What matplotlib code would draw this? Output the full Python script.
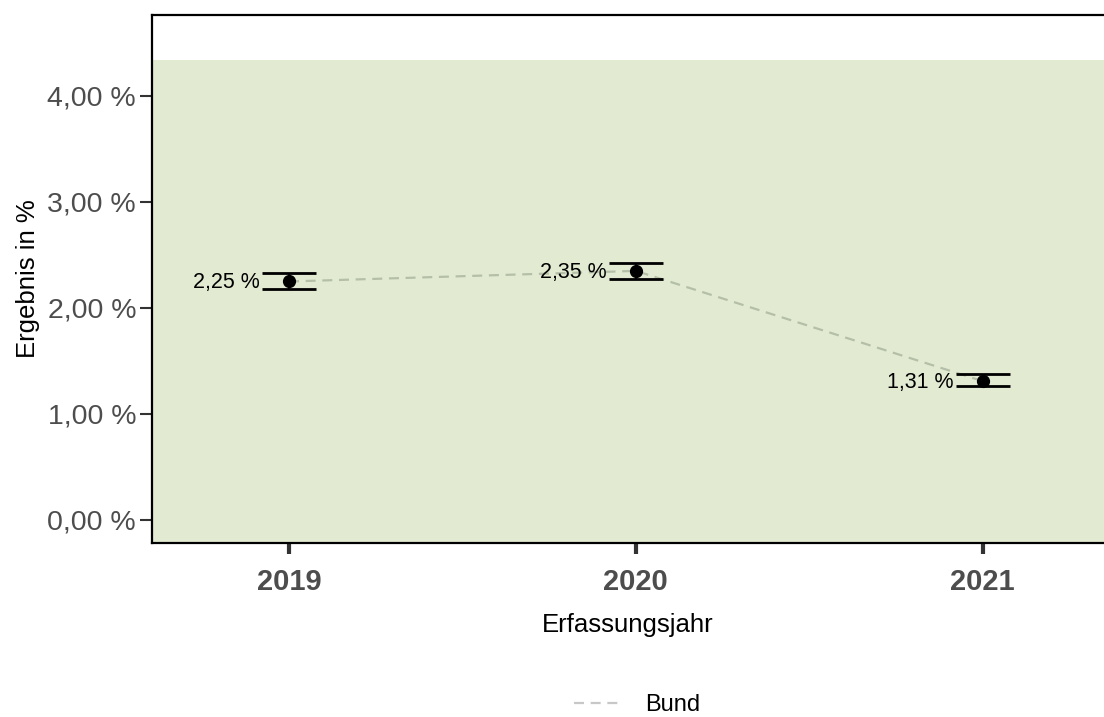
import matplotlib.pyplot as plt
from matplotlib.lines import Line2D

plt.rcParams['font.family'] = ['Liberation Sans', 'DejaVu Sans']

# Data
years = [2019, 2020, 2021]
values = [2.25, 2.35, 1.31]
ci_low = [2.18, 2.27, 1.265]
ci_high = [2.33, 2.42, 1.375]
labels = ['2,25 %', '2,35 %', '1,31 %']
y_ticks = [0, 1, 2, 3, 4]
y_tick_labels = ['0,00 %', '1,00 %', '2,00 %', '3,00 %', '4,00 %']
green_top = 4.34

fig = plt.figure(figsize=(11.04, 7.17), dpi=100)
ax = fig.add_axes([152 / 1104, 1 - 543 / 717, (1104 - 152) / 1104, (543 - 15) / 717])

ax.set_xlim(2018.605, 2021.35)
ax.set_ylim(-0.217, 4.764)

# green reference area
ax.axhspan(-1, green_top, color='#e2ebd2', zorder=0, lw=0)

# dashed line
ax.plot(years, values, ls=(0, (4.5, 3)), color='#b5bfa8', lw=1.6, zorder=2)

# error bars
ax.errorbar(years, values,
            yerr=[[v - l for v, l in zip(values, ci_low)], [h - v for v, h in zip(values, ci_high)]],
            fmt='o', color='black', ms=8.5, elinewidth=1.5, capsize=19.5, capthick=2, zorder=3)

for x, y, t in zip(years, values, labels):
    ax.annotate(t, (x, y), xytext=(-21, -1), textcoords='offset points',
                ha='right', va='center', fontsize=15.5, color='black', zorder=4)

ax.set_yticks(y_ticks)
ax.set_yticklabels(y_tick_labels)
ax.set_xticks(years)
ax.set_xticklabels([str(y) for y in years], fontweight='bold')

ax.tick_params(axis='y', length=8.5, width=1.5, color='#333333', labelsize=20.5, labelcolor='#4d4d4d', pad=3)
ax.tick_params(axis='x', length=8, width=3, color='#333333', labelsize=21, labelcolor='#4d4d4d', pad=10)

for s in ['left', 'bottom', 'top']:
    ax.spines[s].set_linewidth(1.6)
    ax.spines[s].set_color('black')
ax.spines['right'].set_visible(False)

ax.set_ylabel('Ergebnis in %', fontsize=18.5, labelpad=5)
ax.set_xlabel('Erfassungsjahr', fontsize=18.5, labelpad=12)

handle = Line2D([], [], ls=(0, (4.5, 3)), color='#c8c8c8', lw=1.6)
fig.legend([handle], ['Bund'], loc='center', bbox_to_anchor=(637 / 1104, 1 - 705 / 717),
           frameon=False, fontsize=17, handlelength=2.0, handletextpad=1.0)

fig.savefig('out.png', dpi=100)
